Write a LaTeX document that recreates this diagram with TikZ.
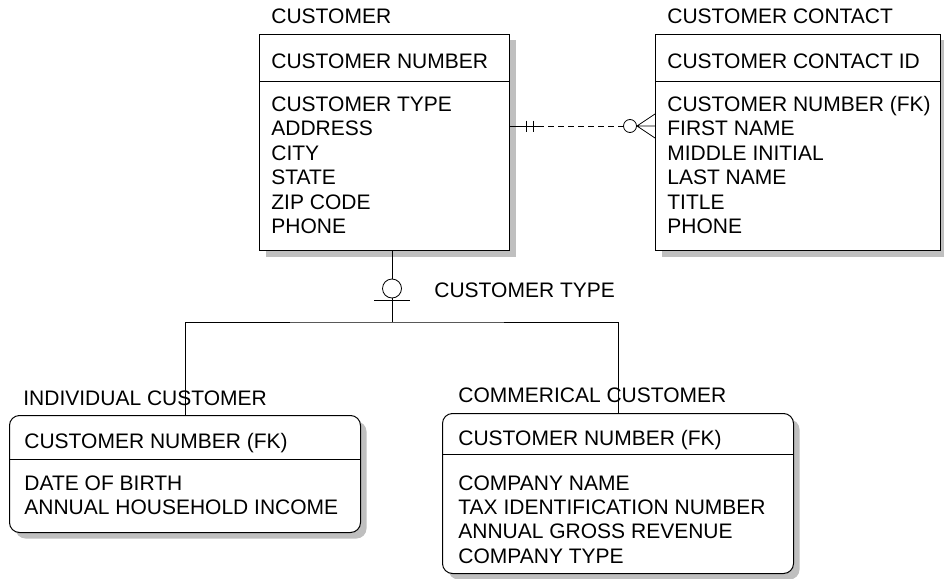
\documentclass[tikz,border=0pt]{standalone}
\usepackage{fontspec}
\setmainfont{Liberation Sans}
\usetikzlibrary{shadows}
\begin{document}
\begin{tikzpicture}[x=1pt, y=-1pt, line width=0.8pt,
    every node/.style={font=\fontsize{21}{24.4}\selectfont, inner sep=0pt},
    entity/.style={draw, line width=1pt, fill=white, anchor=north west,
      drop shadow={shadow xshift=6pt, shadow yshift=-6pt, fill=black!25, opacity=1}},
    subentity/.style={entity, rounded corners=10pt},
    txt/.style={anchor=base west, align=left}]
    \useasboundingbox (0,0) rectangle (944,578);
    % entities
    \node[entity, minimum width=250pt, minimum height=216pt] (cust) at (259,34) {};
    \node[entity, minimum width=285pt, minimum height=216pt] (cont) at (655,34) {};
    \node[subentity, minimum width=351pt, minimum height=117pt] (ind) at (9,415) {};
    \node[subentity, minimum width=351pt, minimum height=160pt] (com) at (442,413) {};
    \draw[line width=1pt] (cust.west |- 0,81) -- (cust.east |- 0,81);
    \draw[line width=1pt] (cont.west |- 0,81) -- (cont.east |- 0,81);
    \draw[line width=1pt] (ind.west |- 0,459.5) -- (ind.east |- 0,459.5);
    \draw[line width=1pt] (com.west |- 0,454) -- (com.east |- 0,454);
    % texts (multi-line nodes sit on their last line)
    \node[txt] (custname) at (271,23.3) {CUSTOMER};
    \node[txt] (custkey) at (271,68) {CUSTOMER NUMBER};
    \node[txt] (custattr) at (271,233.5) {CUSTOMER TYPE\\ADDRESS\\CITY\\STATE\\ZIP CODE\\PHONE};
    \node[txt] (contname) at (667,23.3) {CUSTOMER CONTACT};
    \node[txt] (contkey) at (667,68) {CUSTOMER CONTACT ID};
    \node[txt] (contattr) at (667,233.5) {CUSTOMER NUMBER (FK)\\FIRST NAME\\MIDDLE INITIAL\\LAST NAME\\TITLE\\PHONE};
    \node[txt] (indname) at (23,405) {INDIVIDUAL CUSTOMER};
    \node[txt] (indkey) at (24,448) {CUSTOMER NUMBER (FK)};
    \node[txt] (indattr) at (24,514.4) {DATE OF BIRTH\\ANNUAL HOUSEHOLD INCOME};
    \node[txt] (comname) at (458,402) {COMMERICAL CUSTOMER};
    \node[txt] (comkey) at (458,445) {CUSTOMER NUMBER (FK)};
    \node[txt] (comattr) at (458,563.2) {COMPANY NAME\\TAX IDENTIFICATION NUMBER\\ANNUAL GROSS REVENUE\\COMPANY TYPE};
    % customer -- contact
    \coordinate (r1) at (cust.east |- 0,126);
    \coordinate (r2) at (cont.west |- 0,126);
    \draw (r1) -- ++(28,0) coordinate (r3);
    \draw (r1) ++(16,-5.5) -- ++(0,11) (r1) ++(23,-5.5) -- ++(0,11);
    \draw[dash pattern=on 6pt off 4pt] (r3) -- ([xshift=-31.5pt]r2);
    \draw ([xshift=-25pt]r2) circle[radius=6.5pt];
    \draw ([xshift=-18pt]r2) -- ([yshift=12pt]r2)
          ([xshift=-18pt]r2) -- ([yshift=-12pt]r2)
          ([xshift=-18pt]r2) -- (r2);
    % subtypes
    \node[draw, circle, minimum size=19pt] (disc) at (392,288.5) {};
    \node[txt] (subtype) at (434,297) {CUSTOMER TYPE};
    \coordinate (split) at (392,322);
    \draw (cust.south -| disc) -- (disc);
    \draw (disc) -- (split);
    \draw (374,300) -- (410,300);
    \draw (ind.north) |- (split) -| (com.north);
\end{tikzpicture}
\end{document}
